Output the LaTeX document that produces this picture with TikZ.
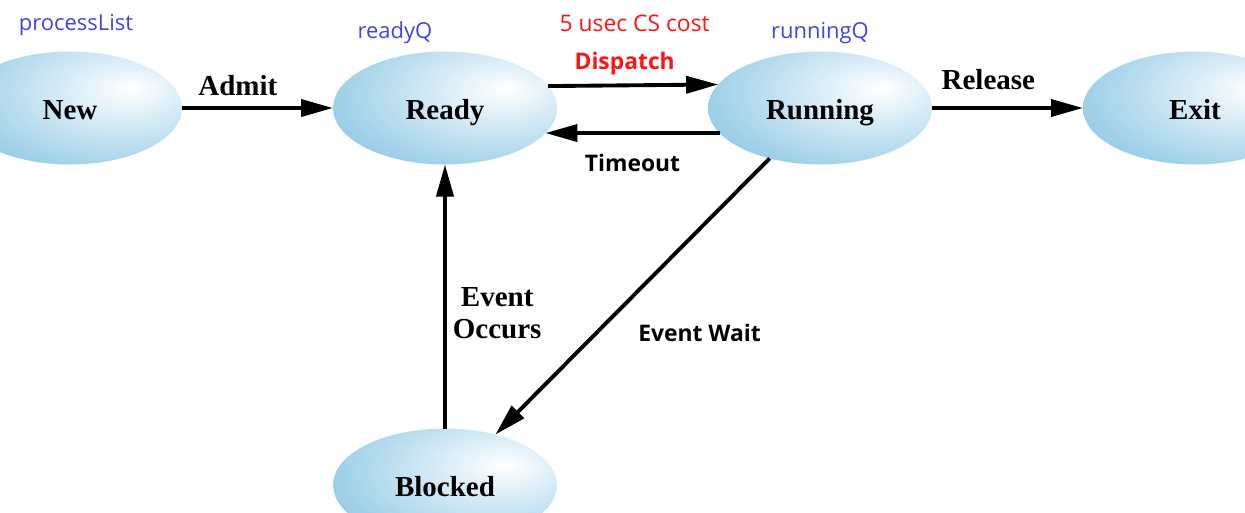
\documentclass[tikz,border=0pt]{standalone}
\usepackage{fontspec}
\setmainfont{Liberation Serif}
\newfontfamily\uifont{Open Sans}
\usetikzlibrary{positioning,arrows.meta,shapes.geometric,backgrounds}
\definecolor{stateblue}{RGB}{107,183,222}
\definecolor{qblue}{RGB}{68,68,221}
\definecolor{costred}{RGB}{255,20,20}
\pgfdeclareradialshading{statefill}{\pgfpoint{14bp}{9bp}}{color(0bp)=(white); color(4bp)=(stateblue!8!white);
    color(34bp)=(stateblue!66!white); color(53bp)=(stateblue); color(100bp)=(stateblue)}
\begin{document}
\begin{tikzpicture}[
        node distance=7.5cm, on grid, % Расстояние между центрами состояний
        >={Triangle[length=0.64cm,width=0.34cm]},
        trans/.style={draw, ->, line width=2.2pt}, % Стиль переходов
        state/.style={ellipse, minimum width=4.48cm, minimum height=2.26cm,
                inner sep=0pt, outer sep=0pt, text height=13.5pt, text depth=0pt,
                font=\fontsize{16.5}{18}\selectfont\bfseries}, % Стиль состояний
        lbl/.style={font=\fontsize{16.5}{18.7}\selectfont\bfseries, inner sep=0pt, align=center},
        uilbl/.style={font=\uifont\fontsize{13}{15}\selectfont\bfseries, inner sep=0pt},
        qlbl/.style={font=\uifont\fontsize{12.5}{15}\selectfont, text=qblue, inner sep=0pt}, % Имена очередей
    ]
    \useasboundingbox (0,0) rectangle (24.9,-10.24);

    \node[state] (new) at (1.4,-2.16) {New};
    \node[state, right=of new] (ready) {Ready};
    \node[state, right=of ready] (running) {Running};
    \node[state, right=of running] (exit) {Exit};
    \node[state, below=7.54cm of ready] (blocked) {Blocked};

    % Заливка эллипсов
    \begin{scope}[on background layer]
        \foreach \s in {new,ready,running,exit,blocked}
            \shade[shading=statefill, transform canvas={cm={1,0,0,0.5045,(\s.center)}}] (0,0) circle (2.24cm);
    \end{scope}

    \node[qlbl, above=1.66cm of new, xshift=0.12cm] (plist) {processList};
    \node[qlbl, above=1.5cm of ready, xshift=-1cm] (readyq) {readyQ};
    \node[qlbl, above=1.5cm of running] (runningq) {runningQ};

    \draw[trans] (new) -- node[lbl, pos=0.37, above=0.2cm] (admit) {Admit} (ready);
    \draw[trans] (ready.12.7) -- node[uilbl, text=costred, pos=0.45, above=0.17cm] (dispatch) {Dispatch} (running.167.3);
    \node[qlbl, text=costred, font=\uifont\fontsize{13}{15}\selectfont, above=0.8cm of dispatch, xshift=0.2cm] (cost) {5 usec CS cost};
    \draw[trans] (running.194) -- node[uilbl, midway, below=0.38cm] (timeout) {Timeout} (ready.-14);
    \draw[trans] (running) -- node[lbl, pos=0.373, above=0.32cm] (release) {Release} (exit);
    \draw[trans] (blocked) -- node[lbl, pos=0.437, right=0.12cm] (occurs) {Event\\Occurs} (ready);
    \draw[trans] (running.225) -- node[uilbl, pos=0.632, right=0.8cm] (wait) {Event Wait} (blocked.45);
\end{tikzpicture}
\end{document}
